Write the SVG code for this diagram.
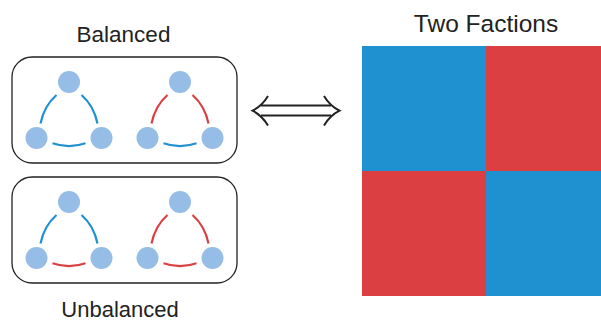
<svg xmlns="http://www.w3.org/2000/svg" width="601" height="320" viewBox="0 0 601 320">
<style>
.lbl{font-family:"Liberation Sans",Arial,sans-serif;fill:#222;text-anchor:middle}
.box{fill:none;stroke:#222;stroke-width:1.3}
.nd{fill:#95bde6}
.e{fill:none;stroke-width:2.2;stroke-linecap:butt}
.b{stroke:#1f90d0}
.r{stroke:#dc3f42}
.arr{fill:none;stroke:#222;stroke-width:2}
</style>
<defs>
<g id="tri">
<circle class="nd" cx="69" cy="82" r="11"/>
<circle class="nd" cx="36.5" cy="138" r="11"/>
<circle class="nd" cx="101.5" cy="138" r="11"/>
</g>
</defs>
<text class="lbl" x="123.5" y="41.5" font-size="22.5">Balanced</text>
<text class="lbl" x="120" y="316.5" font-size="22">Unbalanced</text>
<text class="lbl" x="486" y="31.5" font-size="24.5">Two Factions</text>

<g id="balanced">
<rect class="box" x="12" y="57" width="225" height="106" rx="20"/>
</g>
<g id="unbalanced">
<rect class="box" x="12" y="177" width="225" height="106" rx="20"/>
</g>

<g id="connectors">
<!-- balanced triangle 1: all blue -->
<path class="e b" d="M56.5,95 Q44,106 40.5,123.5"/>
<path class="e b" d="M81.5,95 Q94,106 97.5,123.5"/>
<path class="e b" d="M52.5,143.3 Q69,149 85.5,143.3"/>
<!-- balanced triangle 2: red, red, blue -->
<path class="e r" d="M167.5,95 Q155,106 151.5,123.5"/>
<path class="e r" d="M192.5,95 Q205,106 208.5,123.5"/>
<path class="e b" d="M163.5,143.3 Q180,149 196.5,143.3"/>
<!-- unbalanced triangle 1: blue, blue, red -->
<path class="e b" d="M56.5,215 Q44,226 40.5,243.5"/>
<path class="e b" d="M81.5,215 Q94,226 97.5,243.5"/>
<path class="e r" d="M52.5,263.3 Q69,269 85.5,263.3"/>
<!-- unbalanced triangle 2: all red -->
<path class="e r" d="M167.5,215 Q155,226 151.5,243.5"/>
<path class="e r" d="M192.5,215 Q205,226 208.5,243.5"/>
<path class="e r" d="M163.5,263.3 Q180,269 196.5,263.3"/>
<!-- double arrow -->
<path class="arr" d="M261,105.5 H331 M261,115.5 H331"/>
<path class="arr" d="M268,96 Q262,106 252.5,110.7 Q262,115.5 268,125.5"/>
<path class="arr" d="M324,96 Q330,106 339.5,110.7 Q330,115.5 324,125.5"/>
</g>

<g id="b1"><use href="#tri"/></g>
<g id="b2"><use href="#tri" transform="translate(111,0)"/></g>
<g id="u1"><use href="#tri" transform="translate(0,120)"/></g>
<g id="u2"><use href="#tri" transform="translate(111,120)"/></g>

<g id="matrix">
<rect x="362" y="46" width="124" height="125" fill="#1f90d0"/>
<rect x="486" y="46" width="115" height="125" fill="#dc3f42"/>
<rect x="362" y="171" width="124" height="125" fill="#dc3f42"/>
<rect x="486" y="171" width="115" height="125" fill="#1f90d0"/>
</g>
</svg>
